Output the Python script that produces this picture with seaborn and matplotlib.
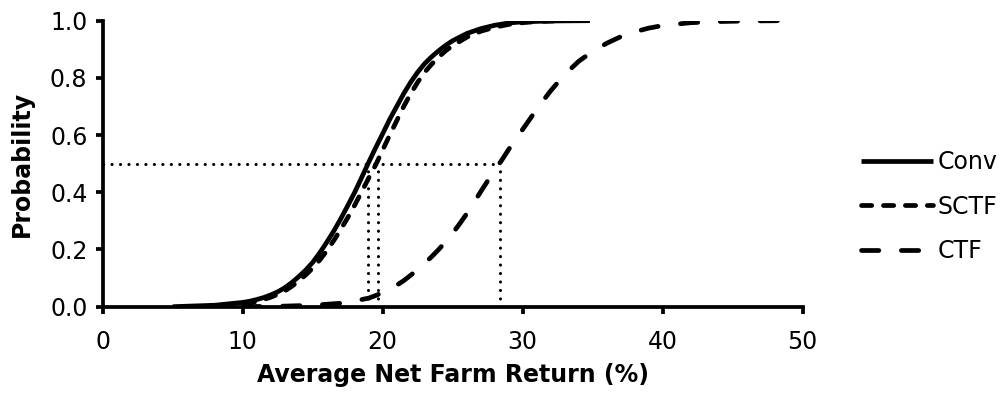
import matplotlib
matplotlib.use("Agg")
import matplotlib.pyplot as plt
import pandas as pd
import seaborn as sns

# values
conv_x = [5.0, 8.0, 10.0, 10.5, 11.0, 11.5, 12.0, 12.5, 13.0, 13.5, 14.0, 14.5, 15.0, 15.5,
          16.0, 16.5, 17.0, 17.5, 18.0, 18.5, 19.0, 19.5, 20.0, 20.5, 21.0, 21.5, 22.0,
          22.5, 23.0, 23.5, 24.0, 24.5, 25.0, 26.0, 27.0, 28.0, 29.0, 30.0, 32.0, 34.8]
conv_p = [0.0, 0.005, 0.015, 0.019, 0.025, 0.032, 0.041, 0.052, 0.066, 0.084, 0.105, 0.128,
          0.155, 0.188, 0.225, 0.264, 0.307, 0.353, 0.40, 0.452, 0.505, 0.556, 0.605, 0.655,
          0.70, 0.745, 0.785, 0.82, 0.85, 0.874, 0.895, 0.914, 0.93, 0.955, 0.972, 0.984,
          0.992, 0.996, 0.999, 1.0]

sctf_x = [7.0, 10.0, 11.0, 12.0, 12.5, 13.0, 13.5, 14.0, 14.5, 15.0, 15.5, 16.0, 16.5, 17.0,
          17.5, 18.0, 18.5, 19.0, 19.5, 20.0, 20.5, 21.0, 21.5, 22.0, 22.5, 23.0, 23.5,
          24.0, 24.5, 25.0, 26.0, 27.0, 28.0, 29.0, 30.0, 31.0, 33.0]
sctf_p = [0.0, 0.008, 0.018, 0.033, 0.043, 0.055, 0.071, 0.09, 0.111, 0.135, 0.163, 0.195,
          0.231, 0.27, 0.311, 0.355, 0.402, 0.45, 0.496, 0.548, 0.60, 0.65, 0.70, 0.745,
          0.785, 0.82, 0.848, 0.873, 0.895, 0.913, 0.942, 0.963, 0.977, 0.987, 0.993,
          0.997, 1.0]

ctf_x = [10.0, 13.0, 15.0, 17.0, 18.0, 19.0, 19.5, 20.0, 20.5, 21.0, 21.5, 22.0, 22.5, 23.0,
         23.5, 24.0, 24.5, 25.0, 25.5, 26.0, 26.5, 27.0, 27.5, 28.0, 28.5, 29.0, 29.5,
         30.0, 30.5, 31.0, 31.5, 32.0, 33.0, 34.0, 35.0, 36.0, 37.0, 38.0, 39.0, 40.0,
         42.0, 44.0, 46.0, 48.6]
ctf_p = [0.0, 0.002, 0.005, 0.012, 0.02, 0.03, 0.039, 0.05, 0.061, 0.075, 0.091, 0.11, 0.13,
         0.152, 0.175, 0.2, 0.228, 0.257, 0.29, 0.325, 0.363, 0.402, 0.44, 0.477, 0.512,
         0.55, 0.586, 0.62, 0.655, 0.69, 0.723, 0.755, 0.812, 0.858, 0.893, 0.921, 0.944,
         0.961, 0.974, 0.983, 0.993, 0.997, 0.999, 1.0]

# medians (x where probability = 0.5)
median_level = 0.5
median_x = [18.97, 19.64, 28.4]

x_ticks = [0, 10, 20, 30, 40, 50]
y_ticks = [0.0, 0.2, 0.4, 0.6, 0.8, 1.0]

sns.set_style("ticks")
plt.rcParams["font.family"] = ["DejaVu Sans"]
plt.rcParams["lines.scale_dashes"] = False
for key in ["text.color", "axes.labelcolor", "xtick.color", "ytick.color"]:
    plt.rcParams[key] = "black"

FS = 17
LW = 3.4

fig, ax = plt.subplots(figsize=(10.03, 3.94), dpi=100)
fig.subplots_adjust(left=0.1024, right=0.8003, bottom=0.2216, top=0.9475)

series = [
    ("Conv", conv_x, conv_p, "-"),
    ("SCTF", sctf_x, sctf_p, (0, (7.4, 8.4))),
    ("CTF", ctf_x, ctf_p, (0, (12.5, 16.2))),
]
for name, xs, ps, ls in series:
    df = pd.DataFrame({"x": xs, "p": ps})
    sns.lineplot(data=df, x="x", y="p", ax=ax, color="black", linewidth=LW,
                 linestyle=ls, sort=False, label=name,
                 dash_capstyle="round", solid_capstyle="butt")

# dotted guides at the median
dot = dict(color="black", linewidth=2.2, linestyle=(0, (0.1, 6.0)),
           dash_capstyle="round", zorder=1)
ax.plot([0, max(median_x)], [median_level, median_level], **dot)
for mx in median_x:
    ax.plot([mx, mx], [0, median_level], **dot)

ax.set_xlim(0, 50)
ax.set_ylim(0, 1.0)
ax.set_xticks(x_ticks)
ax.set_yticks(y_ticks)
ax.set_xticklabels([str(t) for t in x_ticks], fontsize=FS)
ax.set_yticklabels([f"{t:.1f}" for t in y_ticks], fontsize=FS)
ax.set_xlabel("Average Net Farm Return (%)", fontsize=FS, fontweight="bold", labelpad=6)
ax.set_ylabel("Probability", fontsize=FS, fontweight="bold", labelpad=11.5)

sns.despine(ax=ax)
for side in ["left", "bottom"]:
    ax.spines[side].set_linewidth(2.7)
    ax.spines[side].set_color("black")
ax.tick_params(axis="both", which="major", width=2.7, length=5, color="black",
               direction="out", pad=6)
ax.tick_params(axis="x", pad=12)

ax.legend(loc="center left", bbox_to_anchor=(1.07, 0.35), frameon=False,
          fontsize=FS, handlelength=3.05, handletextpad=0.2, labelspacing=0.88,
          borderaxespad=0)

fig.savefig("out.png", dpi=100)
